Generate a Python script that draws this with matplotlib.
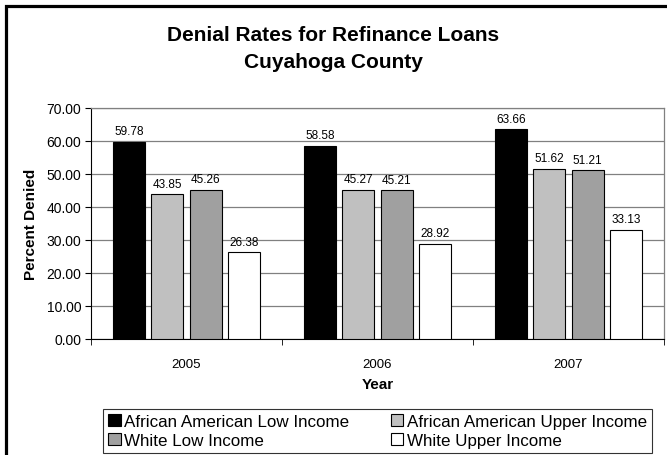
import numpy as np
import matplotlib.pyplot as plt
from matplotlib.patches import Rectangle

plt.rcParams['font.family'] = ['Liberation Sans', 'DejaVu Sans']

# 数据
years = ['2005', '2006', '2007']
series_names = ['African American Low Income', 'African American Upper Income',
                'White Low Income', 'White Upper Income']
aa_low = [59.78, 58.58, 63.66]
aa_upper = [43.85, 45.27, 51.62]
white_low = [45.26, 45.21, 51.21]
white_upper = [26.38, 28.92, 33.13]
y_ticks = [0, 10, 20, 30, 40, 50, 60, 70]

series_values = [aa_low, aa_upper, white_low, white_upper]
bar_colors = ['#000000', '#c0c0c0', '#a0a0a0', '#ffffff']

fig = plt.figure(figsize=(6.67, 4.56), dpi=100)
ax = fig.add_axes([0.1364, 0.2544, 0.8591, 0.5066])

x = np.arange(len(years))
step = 0.2
width = 0.167
handles = []
for i, (name, vals) in enumerate(zip(series_names, series_values)):
    pos = x + (i - 1.5) * step
    bars = ax.bar(pos, vals, width=width, color=bar_colors[i], edgecolor='black',
                  linewidth=0.8, label=name, zorder=3)
    handles.append(bars)
    for b, v in zip(bars, vals):
        ax.text(b.get_x() + b.get_width() / 2, v + 1.3, f'{v:.2f}',
                ha='center', va='bottom', fontsize=8.5, zorder=4)

ax.set_xlim(-0.5, 2.5)
ax.set_ylim(0, 70)
ax.set_yticks(y_ticks)
ax.set_yticklabels([f'{t:.2f}' for t in y_ticks], fontsize=10)
ax.yaxis.grid(True, color='#808080', linewidth=0.9, zorder=0)
ax.set_axisbelow(True)

# x轴: 类别刻度在边界上
ax.set_xticks(x)
ax.set_xticklabels(years, fontsize=9.5)
ax.tick_params(axis='x', length=0, pad=14)
ax.set_xticks([-0.5, 0.5, 1.5, 2.5], minor=True)
ax.tick_params(axis='x', which='minor', length=4, direction='out', color='black')
ax.tick_params(axis='y', length=4, direction='out', pad=3)

for side in ['top', 'right']:
    ax.spines[side].set_color('#808080')
    ax.spines[side].set_linewidth(0.9)
ax.spines['left'].set_color('black')
ax.spines['bottom'].set_color('black')

ax.set_ylabel('Percent Denied', fontsize=11, fontweight='bold', labelpad=6)
ax.set_xlabel('Year', fontsize=11, fontweight='bold', labelpad=5)

fig.text(0.5, 0.923, 'Denial Rates for Refinance Loans', ha='center', va='center',
         fontsize=15, fontweight='bold')
fig.text(0.5, 0.864, 'Cuyahoga County', ha='center', va='center',
         fontsize=15, fontweight='bold')

# 图例按行排列
order = [0, 2, 1, 3]
leg = fig.legend([handles[k] for k in order], [series_names[k] for k in order],
                 loc='lower left', bbox_to_anchor=(103 / 667, 2 / 456),
                 ncol=2, fontsize=12.25, frameon=True, fancybox=False,
                 handlelength=0.73, handleheight=0.73, handletextpad=0.2,
                 borderpad=0.3, labelspacing=0.22, columnspacing=2.45, borderaxespad=0)
leg.get_frame().set_edgecolor('black')
leg.get_frame().set_linewidth(0.8)

# 外框 (左侧和顶部)
fig.patches.append(Rectangle((0.0085, -0.1), 1.2, 0.9836 + 0.1, transform=fig.transFigure,
                             fill=False, edgecolor='black', linewidth=2.3, zorder=10))

fig.savefig('out.png', dpi=100)
